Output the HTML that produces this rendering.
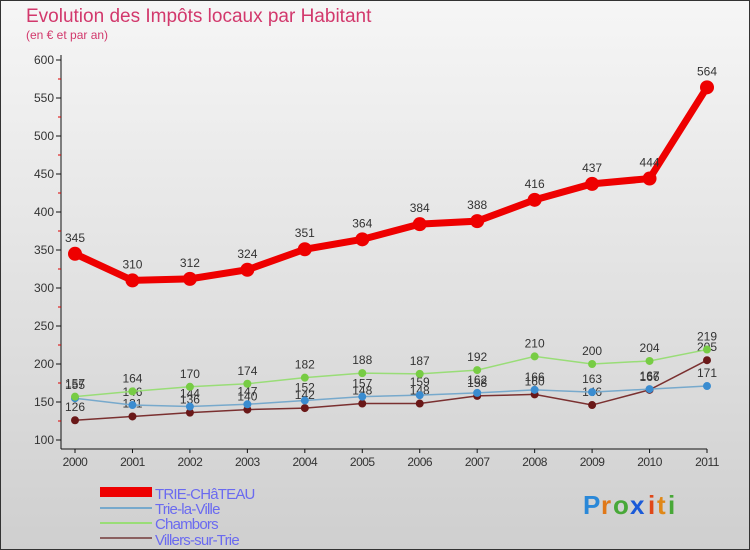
<!DOCTYPE html>
<html><head><meta charset="utf-8"><style>
body{margin:0;width:750px;height:550px;overflow:hidden;font-family:"Liberation Sans",sans-serif}
svg{display:block}
</style></head><body>
<svg width="750" height="550">
<defs><linearGradient id="bg" x1="0" y1="0" x2="0" y2="1"><stop offset="0" stop-color="#f6f6f6"/><stop offset="1" stop-color="#cfcfcf"/></linearGradient></defs>
<rect x="0.5" y="0.5" width="749" height="549" fill="url(#bg)" stroke="#333"/>
<text x="26" y="22" font-size="19" fill="#d2386c">Evolution des Impôts locaux par Habitant</text>
<text x="26" y="39" font-size="12" fill="#d2386c">(en € et par an)</text>
<g id="axes"></g>
<g id="series"></g>
<g font-size="15" fill="#6a6af0">
<rect x="100" y="487" width="52" height="10" fill="#ee0000"/>
<text x="155" y="499" letter-spacing="-0.8">TRIE-CHâTEAU</text>
<rect x="100" y="507" width="52" height="2" fill="#77a9cc"/>
<text x="155" y="514" letter-spacing="-0.8">Trie-la-Ville</text>
<rect x="100" y="522" width="52" height="2" fill="#99dd77"/>
<text x="155" y="529" letter-spacing="-0.8">Chambors</text>
<rect x="100" y="537" width="52" height="2" fill="#8a6060"/>
<text x="155" y="545" letter-spacing="-0.8">Villers-sur-Trie</text>
</g>
<g font-size="26" font-weight="bold">
<text x="583" y="514" fill="#2a88d8">P</text><text x="601" y="514" fill="#e07818">r</text><text x="613" y="514" fill="#48a838">o</text><text x="630" y="514" fill="#1a5ad8">x</text><text x="648" y="514" fill="#e04818">i</text><text x="657" y="514" fill="#e08818">t</text><text x="668" y="514" fill="#48a838">i</text>
</g>
</svg>
<script>
const years=["2000","2001","2002","2003","2004","2005","2006","2007","2008","2009","2010","2011"];
const yTicks=[100,150,200,250,300,350,400,450,500,550,600];
const trieChateau=[345,310,312,324,351,364,384,388,416,437,444,564];
const trieLaVille=[155,146,144,147,152,157,159,162,166,163,167,171];
const chambors=[157,164,170,174,182,188,187,192,210,200,204,219];
const villers=[126,131,136,140,142,148,148,158,160,146,166,205];
const NS="http://www.w3.org/2000/svg";
const x=i=>75+i*(707-75)/11;
const y=v=>440-(v-100)*0.76;
function mk(t,a,p){const e=document.createElementNS(NS,t);for(const k in a)e.setAttribute(k,a[k]);p.appendChild(e);return e;}
const ax=document.getElementById('axes');
const yl=mk('line',{x1:61,y1:55,x2:61,y2:449,stroke:'#111'},ax);


const xl=mk('line',{x1:61,y1:449,x2:707,y2:449,stroke:'#111'},ax);


yTicks.forEach(v=>{
 mk('line',{x1:56,y1:y(v),x2:61,y2:y(v),stroke:'#111'},ax);
 if(v<600)mk('line',{x1:58,y1:y(v+25),x2:61,y2:y(v+25),stroke:'#d00'},ax);
 const t=mk('text',{x:54,y:y(v)+4,'text-anchor':'end','font-size':12,fill:'#333'},ax);
 
 
 t.textContent=v;
});
years.forEach((yr,i)=>{
 mk('line',{x1:x(i),y1:449,x2:x(i),y2:453,stroke:'#111'},ax);
 const t=mk('text',{x:x(i),y:466,'text-anchor':'middle','font-size':12,fill:'#333','letter-spacing':'-0.5'},ax);
 
 
 t.textContent=yr;
});
const sg=document.getElementById('series');
function series(data,name,color,dot,w,r,lblOff){
 const g=mk('g',{},sg);
 
 
 const pts=data.map((v,i)=>x(i)+','+y(v)).join(' ');
 const l=mk('polyline',{points:pts,fill:'none',stroke:color,'stroke-width':w},g);
 
 
 data.forEach((v,i)=>{
  const c=mk('circle',{cx:x(i),cy:y(v),r:r,fill:dot},g);
  
  
  const t=mk('text',{x:x(i),y:y(v)+lblOff,'text-anchor':'middle','font-size':12,fill:'#333'},g);
  
  
  t.textContent=v;
 });
}
series(villers,'villers-sur-trie','#7a3030','#6a1818',1.5,4,-9);
series(trieLaVille,'trie-la-ville','#77a9cc','#3a8cd0',1.5,4,-9);
series(chambors,'chambors','#99dd77','#77cc44',1.5,4,-9);
series(trieChateau,'trie-chateau','#ee0000','#ee0000',7,7,-12);
</script>
</body></html>
